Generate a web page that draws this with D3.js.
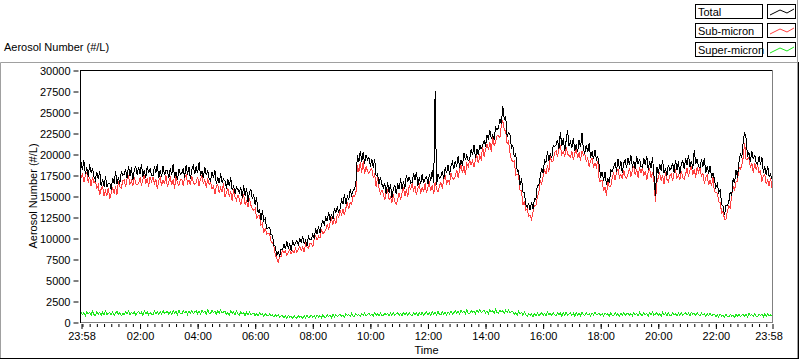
<!DOCTYPE html>
<html>
<head>
<meta charset="utf-8">
<script src="https://cdn.jsdelivr.net/npm/d3@7"></script>
<style>
	body { margin: 0; background: #fff; }
	svg text { font-family: "Liberation Sans", Arial, sans-serif; font-size: 11px; fill: #000; }
</style>
</head>
<body>
<svg id="chart" width="800" height="361"></svg>
<script>
// samples every 3 minutes, starting 23:58 (one row = 30 minutes)
const startTime = new Date(2000, 0, 1, 23, 58),
	  endTime = new Date(2000, 0, 2, 23, 58),
	  stepMinutes = 3;

const seriesNames = ["Total", "Sub-micron", "Super-micron"];
const seriesColors = ["#000000", "#ff4040", "#1ee81e"];

const total = [
	19000, 18120, 19250, 17670, 18400, 17320, 18750, 17770, 18300, 17300,
	16900, 17890, 16980, 17970, 16160, 17040, 16130, 17320, 16110, 16500,
	16500, 15760, 17110, 16470, 17920, 16480, 17230, 16490, 17940, 17500,
	17600, 18200, 17100, 18600, 17400, 18400, 16900, 18100, 18500, 17500,
	18400, 17600, 18800, 17300, 18100, 17100, 18600, 17700, 18300, 17400,
	17400, 18500, 17700, 18800, 17100, 18100, 17300, 18600, 17500, 18000,
	18000, 17100, 18300, 17500, 18800, 17200, 17800, 16900, 18200, 17600,
	17700, 18300, 17200, 18700, 17500, 18500, 17000, 18200, 18600, 17600,
	18500, 17700, 19000, 17400, 18000, 17100, 18500, 17500, 18000, 17100,
	16800, 17900, 17100, 18100, 16400, 17300, 16500, 17700, 16600, 17000,
	16800, 15900, 17000, 16200, 17200, 15700, 16200, 15300, 16100, 15800,
	15400, 16000, 14800, 16300, 15000, 16000, 14300, 15500, 15800, 14700,
	15100, 13970, 14830, 13000, 13470, 12130, 13300, 12070, 12330, 11100,
	11200, 11300, 10400, 10300, 9100, 9000, 7900, 8400, 7800, 8700,
	8600, 9300, 8700, 9600, 8800, 9300, 8500, 9700, 9100, 9400,
	9700, 9100, 10000, 9400, 10200, 9300, 9700, 9000, 10200, 9800,
	9850, 10500, 9900, 11150, 10500, 11400, 10550, 11600, 12100, 11600,
	12500, 12020, 13130, 12090, 12880, 12240, 13590, 13030, 13660, 13100,
	13480, 14550, 14100, 15170, 14000, 14980, 14530, 15760, 15070, 15660,
	15800, 16600, 19900, 19000, 20400, 19100, 20200, 18800, 19900, 19300,
	19600, 18500, 19400, 18400, 19400, 17400, 17600, 16400, 17300, 16400,
	16000, 16500, 15200, 16700, 15400, 16400, 14800, 15900, 16300, 15200,
	16500, 15800, 17100, 15800, 16800, 15900, 17500, 16700, 17300, 16500,
	16600, 17700, 16900, 17900, 16200, 17200, 16400, 17600, 16500, 17000,
	17300, 16400, 17600, 16800, 18100, 16500, 27500, 16300, 17600, 17100,
	17300, 18000, 17000, 18400, 17700, 18700, 17500, 18600, 19100, 18200,
	19200, 18500, 19800, 18400, 19300, 18600, 20100, 19300, 19900, 19200,
	19400, 20600, 19900, 21100, 19500, 20600, 19900, 21100, 20600, 21000,
	21600, 20900, 22300, 21700, 22900, 21800, 22300, 21700, 23200, 22900,
	23100, 24200, 23600, 25700, 24100, 24500, 22100, 22500, 22300, 20700,
	21000, 19600, 20100, 17900, 18000, 16300, 17100, 15500, 15400, 14000,
	13700, 14100, 13300, 14300, 13500, 14700, 14600, 16300, 16200, 17300,
	18300, 17700, 19300, 19000, 20300, 19200, 20100, 19500, 21000, 20900,
	21100, 21700, 20600, 22600, 20900, 21900, 20400, 21600, 22800, 21000,
	21500, 20700, 21900, 20400, 21200, 20200, 21700, 20800, 22500, 20500,
	20100, 21100, 20200, 21300, 19500, 20300, 19400, 20500, 19300, 19700,
	18600, 17200, 17900, 16800, 17900, 16300, 17100, 16500, 18100, 17900,
	18400, 19000, 17900, 19400, 18200, 19200, 17700, 18900, 19300, 18300,
	19500, 18700, 19900, 18400, 19200, 18200, 19700, 18800, 19400, 18500,
	18400, 19500, 18700, 19800, 18100, 19100, 18300, 19600, 17500, 15000,
	18500, 17600, 18800, 18000, 19300, 17700, 18300, 17400, 18700, 18100,
	18300, 18900, 17800, 19300, 18100, 19100, 17600, 18800, 19200, 18200,
	19500, 18700, 19900, 18400, 19200, 18200, 20500, 18800, 19400, 18500,
	18400, 19400, 18500, 19500, 17700, 18600, 17600, 18600, 17300, 17700,
	17000, 16000, 16400, 15400, 15800, 14000, 13800, 12700, 13900, 13900,
	14300, 15500, 15000, 17100, 16500, 18100, 17200, 19000, 20000, 19600,
	21500, 22600, 21900, 19700, 20200, 19000, 20400, 19400, 19900, 18900,
	18800, 19700, 18700, 19600, 17700, 18500, 17500, 18600, 17300, 17600,
	17000
];

const subMicron = [
	17100, 17720, 16650, 17370, 17800, 16620, 17250, 16170, 17300, 16600,
	16800, 15890, 16280, 15070, 15860, 16140, 15030, 15620, 15010, 16000,
	14600, 15360, 16010, 15270, 16120, 15180, 16830, 16090, 15940, 16800,
	16900, 16100, 17100, 17400, 16400, 16800, 16200, 17300, 16500, 16300,
	16500, 17200, 16200, 17000, 17500, 16400, 17100, 16100, 17300, 16700,
	17300, 16500, 17000, 15900, 16800, 17200, 16200, 16900, 16400, 17500,
	16100, 16700, 17200, 16300, 17000, 15900, 17400, 16500, 16200, 16900,
	17000, 16200, 17200, 17500, 16500, 16900, 16300, 17400, 16600, 16400,
	16600, 17300, 16200, 17000, 17500, 16400, 16900, 16000, 17100, 16400,
	16700, 15900, 16200, 15200, 16100, 16400, 15400, 16000, 15500, 16500,
	14900, 15400, 15900, 14900, 15600, 14400, 15800, 14900, 14500, 15100,
	14700, 13900, 14800, 15100, 14000, 14400, 13700, 14700, 13900, 13500,
	13260, 13490, 12350, 12660, 12730, 11510, 11740, 10610, 11230, 10420,
	10600, 10550, 9600, 9400, 9050, 7900, 7650, 7000, 7850, 7750,
	8600, 8200, 8450, 7900, 8350, 8600, 8100, 8500, 8250, 8800,
	8300, 8700, 9000, 8500, 8900, 8300, 9300, 8900, 8800, 9300,
	9340, 8970, 9860, 10260, 9750, 10210, 9980, 10940, 10570, 10620,
	10960, 11660, 11010, 11790, 12340, 11600, 12310, 11650, 12760, 12420,
	13280, 12820, 13400, 12690, 13590, 14090, 13470, 14200, 13980, 15040,
	14900, 15400, 18700, 17900, 19000, 17800, 19100, 17600, 18500, 18000,
	17700, 18100, 18300, 17200, 17600, 16100, 17200, 16000, 15300, 15700,
	15300, 14500, 15400, 15700, 14600, 14900, 14200, 15200, 14300, 14000,
	14600, 15400, 14500, 15400, 16000, 15000, 15800, 14900, 16200, 15800,
	16500, 15700, 16200, 15100, 15900, 16300, 15300, 16000, 15500, 16500,
	15400, 16000, 16500, 15600, 16300, 15200, 16700, 15800, 15500, 16200,
	16600, 15900, 17000, 17400, 16500, 16900, 16500, 17700, 17100, 17000,
	17300, 18100, 17200, 18100, 18700, 17700, 18600, 17500, 18900, 18500,
	19300, 18700, 19200, 18400, 19300, 19800, 18900, 19800, 19400, 20900,
	19700, 20500, 21200, 20500, 21400, 20300, 22000, 21000, 21400, 22200,
	22200, 21900, 23400, 24000, 22900, 22700, 21200, 21500, 20100, 19300,
	19100, 19200, 17500, 17600, 17400, 15600, 15600, 13900, 14400, 13300,
	13460, 12580, 12680, 12220, 13160, 13900, 13800, 14920, 15320, 16780,
	16400, 17330, 18170, 17600, 18630, 17870, 19700, 19130, 19170, 20200,
	20400, 19600, 20600, 20900, 19900, 20300, 19700, 20800, 20000, 19800,
	19600, 20300, 19300, 20100, 20600, 19500, 20200, 19200, 20400, 19800,
	20000, 19100, 19500, 18500, 19200, 19500, 18400, 18900, 18400, 19200,
	16700, 16800, 16800, 15600, 16100, 15000, 16700, 16100, 16100, 17200,
	17700, 16900, 17900, 18200, 17200, 17600, 17000, 18100, 17300, 17100,
	17600, 18300, 17300, 18100, 18600, 17500, 18200, 17200, 18400, 17800,
	18300, 17500, 18000, 16900, 17800, 18200, 17200, 17900, 16800, 14300,
	16600, 17200, 17700, 16800, 17500, 16400, 17900, 17000, 16700, 17400,
	17600, 16800, 17800, 18100, 17100, 17500, 16900, 18000, 17200, 17000,
	17600, 18300, 17300, 18100, 18600, 17500, 18200, 17200, 18400, 17800,
	18300, 17360, 17710, 16470, 17220, 17480, 16330, 16890, 16240, 17200,
	15500, 15460, 15360, 14320, 14240, 12980, 13180, 12240, 12260, 13180,
	13800, 13600, 15200, 16100, 15700, 16700, 16700, 18400, 18200, 18600,
	19600, 21300, 19300, 19400, 19600, 18300, 18900, 17800, 18900, 18200,
	18700, 17700, 18000, 16700, 17400, 17600, 16400, 16900, 16200, 17100,
	16000
];

const superMicron = [
	1200, 900, 1100, 750, 1250, 950, 1150, 800, 1300, 850,
	800, 1250, 950, 1150, 750, 1200, 900, 1300, 900, 1050,
	1150, 850, 1200, 800, 1050, 1250, 900, 1100, 750, 1000,
	900, 1200, 1000, 1300, 850, 1150, 950, 1250, 800, 1100,
	1250, 950, 1150, 800, 1300, 1000, 1200, 850, 1100, 950,
	850, 1300, 1000, 1200, 900, 1250, 950, 1350, 1000, 1150,
	1250, 950, 1200, 900, 1350, 1050, 1250, 900, 1400, 1000,
	950, 1350, 1100, 1250, 900, 1300, 1050, 1400, 1000, 1200,
	1350, 1000, 1250, 950, 1400, 1100, 1300, 950, 1450, 1050,
	1000, 1400, 1150, 1300, 950, 1350, 1050, 1450, 1050, 1200,
	1250, 900, 1150, 850, 1300, 1000, 1200, 850, 1300, 950,
	850, 1200, 950, 1100, 750, 1150, 900, 1200, 850, 1000,
	1050, 750, 1000, 700, 1100, 850, 1000, 700, 1050, 750,
	700, 950, 750, 850, 600, 900, 650, 850, 550, 750,
	750, 500, 700, 450, 800, 550, 700, 400, 750, 550,
	450, 750, 550, 700, 400, 750, 500, 800, 500, 650,
	800, 550, 750, 450, 850, 600, 750, 500, 850, 600,
	550, 850, 650, 800, 500, 900, 600, 900, 650, 750,
	950, 650, 850, 600, 1000, 750, 900, 650, 1050, 700,
	700, 1000, 750, 900, 650, 1000, 800, 1050, 750, 900,
	1050, 750, 950, 700, 1100, 800, 1000, 700, 1100, 800,
	750, 1050, 850, 1000, 700, 1050, 800, 1100, 800, 950,
	1100, 800, 1000, 750, 1150, 900, 1050, 750, 1150, 850,
	800, 1100, 900, 1050, 750, 1100, 850, 1150, 850, 1000,
	1200, 900, 1100, 800, 1250, 950, 1150, 850, 1250, 900,
	850, 1200, 950, 1150, 850, 1200, 950, 1300, 950, 1100,
	1350, 1050, 1250, 950, 1400, 1100, 1300, 1000, 1450, 1050,
	1000, 1350, 1150, 1300, 1000, 1400, 1100, 1450, 1100, 1250,
	1450, 1100, 1300, 1000, 1450, 1200, 1350, 1050, 1500, 1100,
	1050, 1450, 1200, 1350, 1000, 1400, 1150, 1450, 1100, 1250,
	1200, 900, 1100, 800, 1250, 950, 1150, 800, 1200, 850,
	700, 1000, 800, 950, 650, 1000, 750, 1050, 750, 900,
	1100, 800, 1000, 750, 1150, 850, 1050, 750, 1150, 850,
	750, 1100, 850, 1050, 700, 1100, 800, 1150, 800, 950,
	1100, 800, 1050, 700, 1150, 850, 1050, 750, 1200, 850,
	800, 1100, 850, 1000, 700, 1050, 850, 1150, 850, 950,
	1050, 750, 1000, 700, 1100, 850, 1000, 700, 1100, 800,
	750, 1100, 850, 1000, 700, 1050, 800, 1100, 800, 950,
	1100, 800, 1000, 750, 1150, 850, 1050, 750, 1150, 850,
	800, 1100, 850, 1050, 700, 1100, 850, 1150, 800, 950,
	1100, 800, 1000, 700, 1150, 850, 1050, 750, 1100, 800,
	750, 1050, 850, 1000, 700, 1100, 800, 1150, 800, 950,
	1100, 800, 1050, 750, 1150, 900, 1050, 750, 1100, 850,
	750, 1050, 850, 950, 700, 1000, 750, 1050, 750, 900,
	900, 650, 850, 600, 950, 700, 850, 550, 900, 650,
	600, 900, 700, 850, 550, 900, 650, 950, 650, 800,
	950, 650, 900, 600, 1000, 750, 900, 650, 1000, 700,
	650, 950, 750, 900, 600, 950, 700, 1000, 700, 850,
	750
];

const yTicks = [0, 2500, 5000, 7500, 10000, 12500, 15000, 17500, 20000, 22500, 25000, 27500, 30000];
const xTickTimes = [
	startTime,
	new Date(2000, 0, 2, 2, 0), new Date(2000, 0, 2, 4, 0), new Date(2000, 0, 2, 6, 0),
	new Date(2000, 0, 2, 8, 0), new Date(2000, 0, 2, 10, 0), new Date(2000, 0, 2, 12, 0),
	new Date(2000, 0, 2, 14, 0), new Date(2000, 0, 2, 16, 0), new Date(2000, 0, 2, 18, 0),
	new Date(2000, 0, 2, 20, 0), new Date(2000, 0, 2, 22, 0),
	endTime
];
const xTickLabels = ["23:58", "02:00", "04:00", "06:00", "08:00", "10:00", "12:00",
	"14:00", "16:00", "18:00", "20:00", "22:00", "23:58"];

const plot = {left: 81, right: 772, top: 70, bottom: 322};

let svg = d3.select("#chart");

let x = d3.scaleTime()
	.domain([startTime, endTime])
	.range([plot.left, plot.right]);

let y = d3.scaleLinear()
	.domain([0, 30000])
	.range([plot.bottom, plot.top]);

// time of sample i
function timeAt(i) {
	return new Date(startTime.getTime() + i * stepMinutes * 60000);
}

// add line svg element
function addLine(x1, y1, x2, y2, color) {
	svg.append("line")
		.attr("x1", x1)
		.attr("y1", y1)
		.attr("x2", x2)
		.attr("y2", y2)
		.attr("stroke", color)
		.attr("stroke-width", 1);
}

// outer frame
addLine(0.5, 62.5, 797, 62.5, "#a0a0a0");
addLine(0.5, 62.5, 0.5, 358, "#a0a0a0");
addLine(797.5, 0, 797.5, 358, "#a0a0a0");
addLine(798.5, 62, 798.5, 359, "#000");
addLine(0, 358.5, 799, 358.5, "#000");

// title
svg.append("text")
	.attr("x", 4)
	.attr("y", 51)
	.text("Aerosol Number (#/L)");

// series: sub-micron under total, super-micron last
let line = d3.line()
	.x((d, i) => x(timeAt(i)))
	.y(d => y(d));

let drawOrder = [1, 0, 2];
let allSeries = [total, subMicron, superMicron];

drawOrder.forEach(k => {
	svg.append("path")
		.datum(allSeries[k])
		.attr("d", line)
		.attr("fill", "none")
		.attr("stroke", seriesColors[k])
		.attr("stroke-width", 1)
		.attr("shape-rendering", "crispEdges");
});

// plot border
addLine(plot.left - 0.5, plot.top + 0.5, plot.right, plot.top + 0.5, "#000");
addLine(plot.left - 0.5, plot.top, plot.left - 0.5, plot.bottom + 1, "#000");
addLine(plot.right + 0.5, plot.top, plot.right + 0.5, plot.bottom + 1, "#808080");
addLine(plot.left, plot.bottom + 0.5, plot.right + 1, plot.bottom + 0.5, "#808080");

// y axis
let yAxis = svg.append("g")
	.attr("transform", "translate(" + (plot.left - 2.5) + ",0.5)")
	.call(d3.axisLeft(y).tickValues(yTicks).tickSize(5).tickPadding(3).tickFormat(d3.format("d")));
yAxis.select(".domain").remove();
yAxis.selectAll("text").style("font-size", "11px").style("font-family", "'Liberation Sans', Arial, sans-serif");

// x axis minor ticks, every 15 minutes
let minorTicks = d3.timeMinute.every(15).range(startTime, endTime);
let xMinor = svg.append("g")
	.attr("transform", "translate(0.5," + (plot.bottom + 2) + ")")
	.call(d3.axisBottom(x).tickValues(minorTicks).tickSize(3).tickFormat(""));
xMinor.select(".domain").remove();

// x axis major ticks
let xAxis = svg.append("g")
	.attr("transform", "translate(0.5," + (plot.bottom + 2) + ")")
	.call(d3.axisBottom(x).tickValues(xTickTimes).tickSize(5).tickPadding(3)
		.tickFormat((d, i) => xTickLabels[i]));
xAxis.select(".domain").remove();
xAxis.selectAll("text").style("font-size", "11px").style("font-family", "'Liberation Sans', Arial, sans-serif");
// keep the last label inside the frame
xAxis.selectAll("text").filter((d, i) => i == xTickLabels.length - 1).attr("dx", "-4");

// axis titles
svg.append("text")
	.attr("x", (plot.left + plot.right) / 2)
	.attr("y", 354)
	.attr("text-anchor", "middle")
	.text("Time");

svg.append("text")
	.attr("transform", "translate(37," + ((plot.top + plot.bottom) / 2) + ") rotate(-90)")
	.attr("text-anchor", "middle")
	.text("Aerosol Number (#/L)");

// legend
seriesNames.forEach((name, k) => {
	let top = 4 + k * 19;

	svg.append("rect")
		.attr("x", 695.5)
		.attr("y", top + 0.5)
		.attr("width", 67)
		.attr("height", 14)
		.attr("fill", "#fff")
		.attr("stroke", "#000");

	svg.append("text")
		.attr("x", 698)
		.attr("y", top + 12)
		.text(name);

	svg.append("rect")
		.attr("x", 767.5)
		.attr("y", top + 0.5)
		.attr("width", 28)
		.attr("height", 14)
		.attr("fill", "#fff")
		.attr("stroke", "#000");

	svg.append("polyline")
		.attr("points", [[770, top + 11], [780, top + 6], [787, top + 9], [794, top + 5]].join(" "))
		.attr("fill", "none")
		.attr("stroke", seriesColors[k]);
});
</script>
</body>
</html>
